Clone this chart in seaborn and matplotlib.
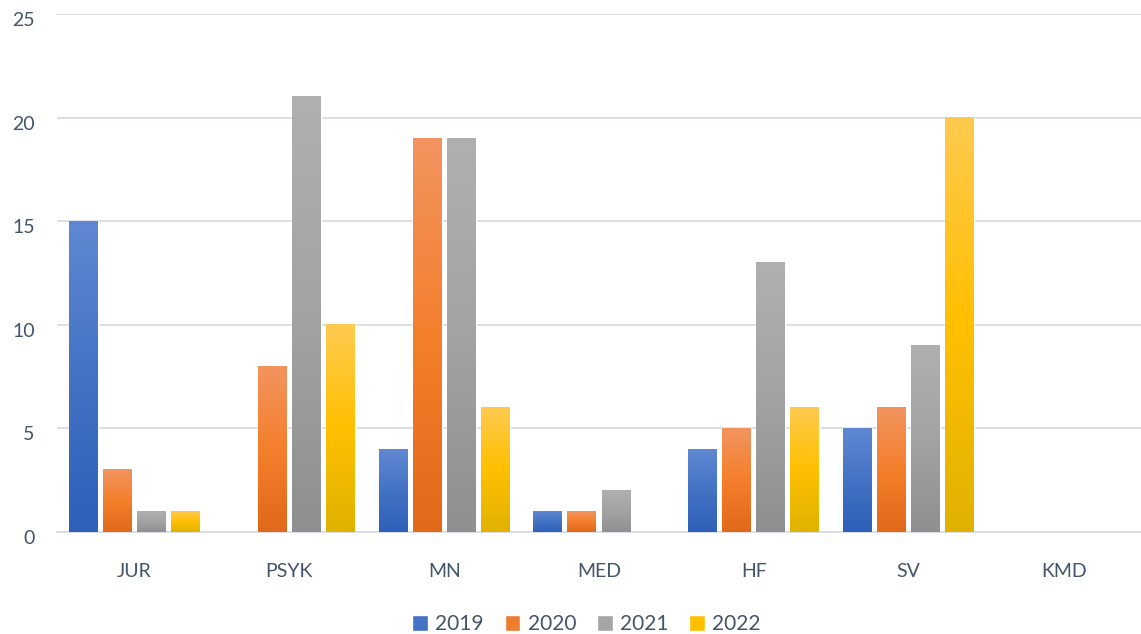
import numpy as np
import pandas as pd
import seaborn as sns
import matplotlib.pyplot as plt
import matplotlib.transforms as mtrans
from matplotlib.colors import LinearSegmentedColormap
from matplotlib.patches import Patch

categories = ["JUR", "PSYK", "MN", "MED", "HF", "SV", "KMD"]
years = ["2019", "2020", "2021", "2022"]
v2019 = [15, 0, 4, 1, 4, 5, 0]
v2020 = [3, 8, 19, 1, 5, 6, 0]
v2021 = [1, 21, 19, 2, 13, 9, 0]
v2022 = [1, 10, 6, 0, 6, 20, 0]

# top / middle / bottom gradient colours per year (Excel style fill)
grads = {
    "2019": ["#6088d2", "#4472c4", "#2e60b8"],
    "2020": ["#f29460", "#f47f2c", "#e0691a"],
    "2021": ["#b0b0b0", "#a3a3a3", "#8f8f8f"],
    "2022": ["#ffca50", "#ffc000", "#e0b200"],
}
solid = {"2019": "#4472c4", "2020": "#ed7d31", "2021": "#a5a5a5", "2022": "#ffc000"}

rows = []
for yr, vals in zip(years, [v2019, v2020, v2021, v2022]):
    for c, v in zip(categories, vals):
        rows.append({"Fakultet": c, "År": yr, "Antall": v})
df = pd.DataFrame(rows)

sns.set_style("white")
plt.rcParams["font.family"] = ["Lato", "DejaVu Sans"]
text_col = "#44546a"

fig = plt.figure(figsize=(11.41, 6.34), dpi=100)
ax = fig.add_axes([57 / 1141, 102 / 634, 1084 / 1141, 518 / 634])

sns.barplot(data=df, x="Fakultet", y="Antall", hue="År", palette=solid,
            width=0.88, gap=0.15, ax=ax, legend=False, errorbar=None)

# gradient fill over each bar
n_cat = len(categories)
for i, p in enumerate(ax.patches):
    yr = years[i // n_cat]
    x0 = p.get_x()
    w, h = p.get_width(), p.get_height()
    if h <= 0:
        continue
    cmap = LinearSegmentedColormap.from_list("g" + yr, grads[yr][::-1])
    grad = np.linspace(0, 1, 256).reshape(-1, 1)
    ax.imshow(grad, extent=(x0, x0 + w, 0, h), origin="lower", cmap=cmap,
              aspect="auto", zorder=3, interpolation="bicubic")

ax.set_ylim(0, 25)
ax.set_xlim(-0.5, len(categories) - 0.5)
ax.set_yticks([0, 5, 10, 15, 20, 25])
ax.yaxis.grid(True, color="#d9dde4", linewidth=1.3)
ax.set_axisbelow(True)
for s in ["top", "right", "left"]:
    ax.spines[s].set_visible(False)
ax.spines["bottom"].set_color("#d9dde4")
ax.spines["bottom"].set_linewidth(1.3)
ax.set_xlabel("")
ax.set_ylabel("")
ax.tick_params(axis="both", length=0, labelsize=14, labelcolor=text_col)
ax.tick_params(axis="x", pad=22)
ax.tick_params(axis="y", pad=16)
shift = mtrans.ScaledTranslation(0, -5 / 100, fig.dpi_scale_trans)
for lab in ax.get_yticklabels():
    lab.set_transform(lab.get_transform() + shift)

handles = [Patch(facecolor=solid[y], label=y) for y in years]
fig.legend(handles=handles, loc="lower center", ncol=4, frameon=False,
           bbox_to_anchor=(0.514, -0.03), fontsize=15, labelcolor=text_col,
           handlelength=0.75, handleheight=0.75, handletextpad=0.35,
           columnspacing=1.0)

fig.savefig("out.png", dpi=100)
